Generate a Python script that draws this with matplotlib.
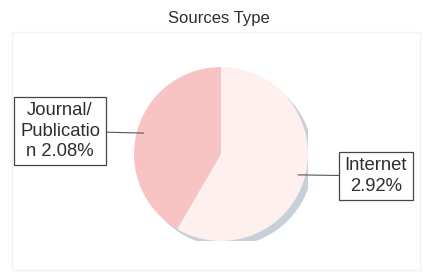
import numpy as np, matplotlib
matplotlib.use("Agg"); import matplotlib.pyplot as plt
from matplotlib.patches import Circle, Rectangle

plt.rcParams['font.family'] = ['Liberation Sans', 'DejaVu Sans']

# --- data ---
labels = ["Journal/\nPublicatio\nn 2.08%", "Internet\n2.92%"]
values = [2.08, 2.92]
colors = ["#f7c4c3", "#fdf0ee"]
title = "Sources Type"

W, H = 426, 275
fig = plt.figure(figsize=(W/100, H/100), dpi=100)
fig.patch.set_facecolor("white")

# faint chart-area frame
fig.patches.append(Rectangle((12/W, 5/H), 408/W, 238/H, transform=fig.transFigure,
                             fill=False, ec="#f5f4f1", lw=1.0))
fig.text(219/W, 1-19/H, title, ha="center", va="center", fontsize=12, color="#2e2e2e")

cx, cy, r = 221, 154, 87
ax = fig.add_axes([(cx-r)/W, (H-cy-r)/H, 2*r/W, 2*r/H])

# shadow
ax.add_patch(Circle((0.06, -0.06), 1.0, fc="#c8cfd7", ec="none", zorder=0))
wedges, _ = ax.pie(values, colors=colors, startangle=90, counterclock=True, radius=1.0,
                   wedgeprops=dict(linewidth=0))
for w in wedges: w.set_zorder(1)
ax.set_xlim(-1, 1); ax.set_ylim(-1, 1); ax.set_aspect("equal"); ax.axis("off")

# labels with leader lines
text_pos = [(60/W, 1-131/H), (376/W, 1-176/H)]
for w, lab, tp in zip(wedges, labels, text_pos):
    ang = np.deg2rad((w.theta1 + w.theta2) / 2)
    xy = (0.92*np.cos(ang), 0.92*np.sin(ang))
    ax.annotate(lab, xy=xy, xycoords="data", xytext=tp, textcoords="figure fraction",
                ha="center", va="center", fontsize=13.3, color="#2e2e2e", linespacing=1.25,
                bbox=dict(boxstyle="square,pad=0.3", fc="white", ec="#444444", lw=0.9),
                arrowprops=dict(arrowstyle="-", color="#555555", lw=0.8, shrinkA=0, shrinkB=0),
                annotation_clip=False)

fig.savefig("out.png", dpi=100)
